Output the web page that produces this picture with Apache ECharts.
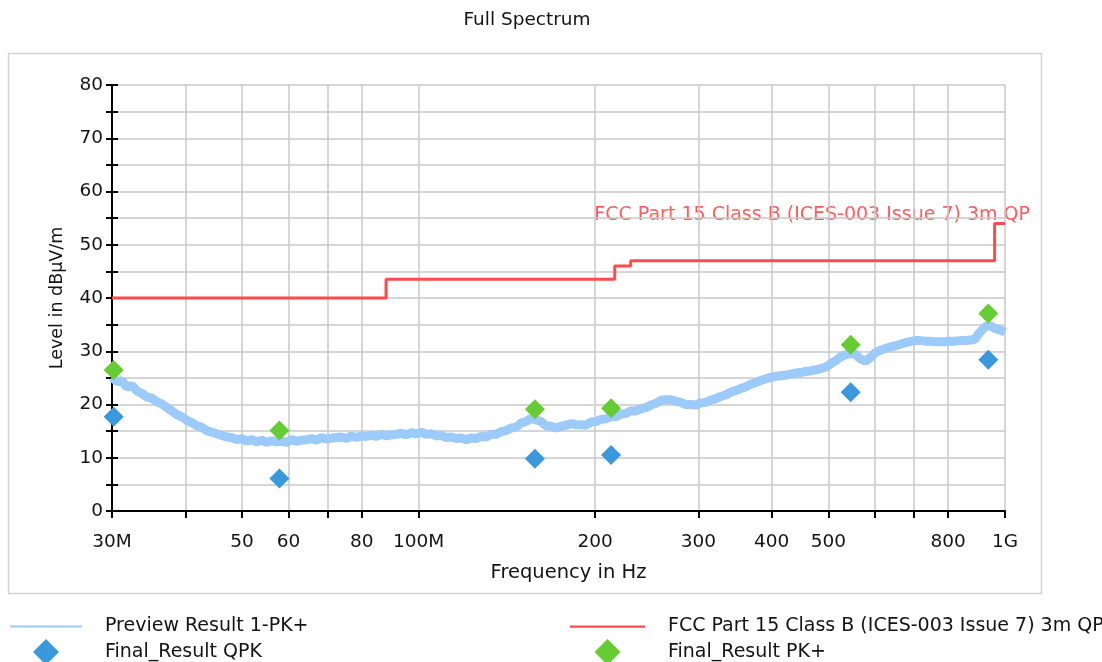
<!DOCTYPE html>
<html><head><meta charset="utf-8">
<script src="https://cdn.jsdelivr.net/npm/echarts@6/dist/echarts.min.js"></script>
<style>html,body{margin:0;padding:0;background:#fff;overflow:hidden}#c{width:1102px;height:662px;}</style>
</head><body><div id="c"></div>
<script>
// ---- data (frequencies in MHz, levels in dBµV/m) ----
const xTickValues = [30, 40, 50, 60, 70, 80, 100, 200, 300, 400, 500, 600, 700, 800, 1000];
const xLabelValues = [30, 50, 60, 80, 100, 200, 300, 400, 500, 800, 1000];
const xLabelNames = {30: '30M', 100: '100M', 1000: '1G'};

const previewStartMHz = 30;
const previewStopMHz = 1000;
const previewLevels = [
  25.1, 24.3, 24.5, 23.2, 23.6, 22.5, 22.1, 21.4, 21.2, 20.5,
  20.1, 19.4, 18.8, 18.1, 17.7, 17.0, 16.6, 16.0, 15.7, 15.1,
  14.8, 14.5, 14.2, 13.9, 13.8, 13.4, 13.6, 13.1, 13.4, 13.0,
  13.3, 12.9, 13.2, 13.0, 13.1, 12.9, 13.4, 13.1, 13.3, 13.4,
  13.6, 13.3, 13.8, 13.5, 13.7, 13.8, 13.9, 13.6, 14.1, 13.8,
  14.1, 14.0, 14.2, 14.0, 14.4, 14.1, 14.3, 14.4, 14.6, 14.3,
  14.7, 14.5, 14.8, 14.4, 14.5, 14.1, 14.2, 13.8, 13.9, 13.6,
  13.7, 13.4, 13.7, 13.6, 14.0, 13.9, 14.4, 14.4, 14.9, 15.1,
  15.6, 15.7, 16.5, 16.8, 17.4, 17.1, 16.8, 16.0, 15.9, 15.6,
  15.9, 16.1, 16.4, 16.2, 16.2, 16.1, 16.7, 16.8, 17.2, 17.3,
  17.7, 17.7, 18.2, 18.3, 18.8, 18.8, 19.2, 19.4, 19.9, 20.2,
  20.8, 20.9, 20.9, 20.6, 20.4, 20.0, 20.0, 19.9, 20.3, 20.4,
  20.8, 21.1, 21.5, 21.8, 22.3, 22.6, 23.0, 23.3, 23.8, 24.1,
  24.5, 24.8, 25.1, 25.3, 25.4, 25.5, 25.7, 25.9, 26.0, 26.2,
  26.3, 26.5, 26.7, 27.0, 27.6, 28.2, 28.9, 29.3, 29.6, 29.4,
  28.6, 28.1, 28.8, 29.7, 30.2, 30.5, 30.8, 31.0, 31.3, 31.6,
  31.8, 32.0, 32.0, 31.9, 31.9, 31.8, 31.8, 31.8, 31.9, 31.9,
  32.0, 32.0, 32.1, 32.3, 33.6, 34.6, 34.8, 34.3, 34.0, 33.6
];

const limitFreqs = [30, 88, 216, 230, 960, 1000];
const limitLevels = [40, 43.5, 46, 47, 54, 54];

const finalFreqs = [30.2, 57.9, 157.9, 212.9, 545.6, 936.5];
const qpkLevels = [17.7, 6.1, 9.8, 10.5, 22.3, 28.4];
const pkLevels = [26.5, 15.1, 19.1, 19.3, 31.2, 37.1];

const names = {
  preview: 'Preview Result 1-PK+',
  limit: 'FCC Part 15 Class B (ICES-003 Issue 7) 3m QP',
  qpk: 'Final_Result QPK',
  pk: 'Final_Result PK+'
};

// ---- build series data ----
const nPrev = previewLevels.length;
const previewData = previewLevels.map((v, i) => [
  previewStartMHz * Math.pow(previewStopMHz / previewStartMHz, i / (nPrev - 1)), v
]);
const limitData = limitFreqs.map((f, i) => [f, limitLevels[i]]);
const qpkData = finalFreqs.map((f, i) => [f, qpkLevels[i]]);
const pkData = finalFreqs.map((f, i) => [f, pkLevels[i]]);

const FONT = 'DejaVu Sans';
const FS = 18.5;
const LEG_FS = 19;
const TXT = '#141414';
const LINE_ICON = 'path://M0,0L100,0L100,3L0,3Z';
const DIAMOND_ICON = 'path://M10,0L20,10L10,20L0,10Z';

const chart = echarts.init(document.getElementById('c'), null, {renderer: 'canvas'});
chart.setOption({
  animation: false,
  backgroundColor: '#ffffff',
  title: {
    text: 'Full Spectrum', left: 522, top: 6, textAlign: 'center',
    textStyle: {fontFamily: FONT, fontSize: FS, fontWeight: 'normal', color: TXT}
  },
  graphic: [{
    type: 'rect', z: -10, silent: true,
    shape: {x: 8.5, y: 53.5, width: 1033, height: 540},
    style: {fill: 'none', stroke: '#d2d2d2', lineWidth: 1.5}
  }, {
    type: 'text', silent: true, x: 1030, y: 215,
    style: {text: names.limit, fill: '#ff5c5c', font: '19px "DejaVu Sans"', align: 'right', verticalAlign: 'middle'}
  }],
  grid: {left: 112, right: 97, top: 85, bottom: 151},
  legend: [{
    orient: 'vertical', left: 10, top: 617, height: 70, padding: 0, itemWidth: 72, itemHeight: 26, itemGap: 3,
    selectedMode: false,
    data: [{name: names.preview, icon: LINE_ICON}, {name: names.qpk, icon: DIAMOND_ICON}],
    textStyle: {fontFamily: FONT, fontSize: LEG_FS, color: TXT, padding: [0, 0, 0, 18]}
  }, {
    orient: 'vertical', left: 570, top: 617, height: 70, padding: 0, itemWidth: 75, itemHeight: 26, itemGap: 3,
    selectedMode: false,
    data: [{name: names.limit, icon: LINE_ICON}, {name: names.pk, icon: DIAMOND_ICON}],
    textStyle: {fontFamily: FONT, fontSize: LEG_FS, color: TXT, padding: [0, 0, 0, 18]}
  }],
  xAxis: {
    type: 'log', logBase: 10, min: 30, max: 1000,
    name: 'Frequency in Hz', nameLocation: 'middle', nameGap: 52,
    nameTextStyle: {fontFamily: FONT, fontSize: 19.5, color: TXT, padding: [0, 0, 0, 20]},
    axisLine: {show: true, lineStyle: {color: '#000', width: 2}},
    axisTick: {show: true, length: 7, customValues: xTickValues, lineStyle: {color: '#000', width: 2}},
    axisLabel: {
      customValues: xLabelValues, margin: 22,
      fontFamily: FONT, fontSize: FS, color: TXT,
      formatter: v => xLabelNames[Math.round(v)] || String(Math.round(v))
    },
    splitLine: {show: true, lineStyle: {color: '#c9c9c9', width: 1.5}},
    minorTick: {show: false}, minorSplitLine: {show: false}
  },
  yAxis: [{
    type: 'value', min: 0, max: 80, interval: 5,
    name: 'Level in dBµV/m', nameLocation: 'middle', nameGap: 46,
    nameTextStyle: {fontFamily: FONT, fontSize: 17.5, color: TXT},
    axisLine: {show: true, lineStyle: {color: '#000', width: 2}},
    axisTick: {show: true, length: 6, lineStyle: {color: '#000', width: 2}},
    axisLabel: {
      margin: 9, fontFamily: FONT, fontSize: FS, color: TXT,
      formatter: v => (v % 10 === 0 ? String(v) : '')
    },
    splitLine: {show: true, lineStyle: {color: '#c9c9c9', width: 1.5}}
  }, {
    type: 'value', min: 0, max: 80, interval: 5, position: 'left', offset: 0,
    axisLine: {show: false},
    axisTick: {show: true, inside: true, length: 6, lineStyle: {color: '#000', width: 2}},
    axisLabel: {show: false}, splitLine: {show: false}
  }],
  series: [{
    name: names.preview, type: 'line', data: previewData,
    showSymbol: false, symbol: 'none', z: 3,
    lineStyle: {color: '#9ccbfb', width: 9, join: 'bevel'},
    itemStyle: {color: '#9ccbfb'}
  }, {
    name: names.limit, type: 'line', data: limitData, step: 'end',
    showSymbol: false, symbol: 'none', z: 4,
    lineStyle: {color: '#ff4b4b', width: 3},
    itemStyle: {color: '#ff4b4b'}
  }, {
    name: names.qpk, type: 'scatter', data: qpkData,
    symbol: 'diamond', symbolSize: 20, z: 5,
    itemStyle: {color: '#3a98dd', opacity: 1}
  }, {
    name: names.pk, type: 'scatter', data: pkData,
    symbol: 'diamond', symbolSize: 20, z: 6,
    itemStyle: {color: '#66cc33', opacity: 1}
  }]
});
</script>
</body></html>
